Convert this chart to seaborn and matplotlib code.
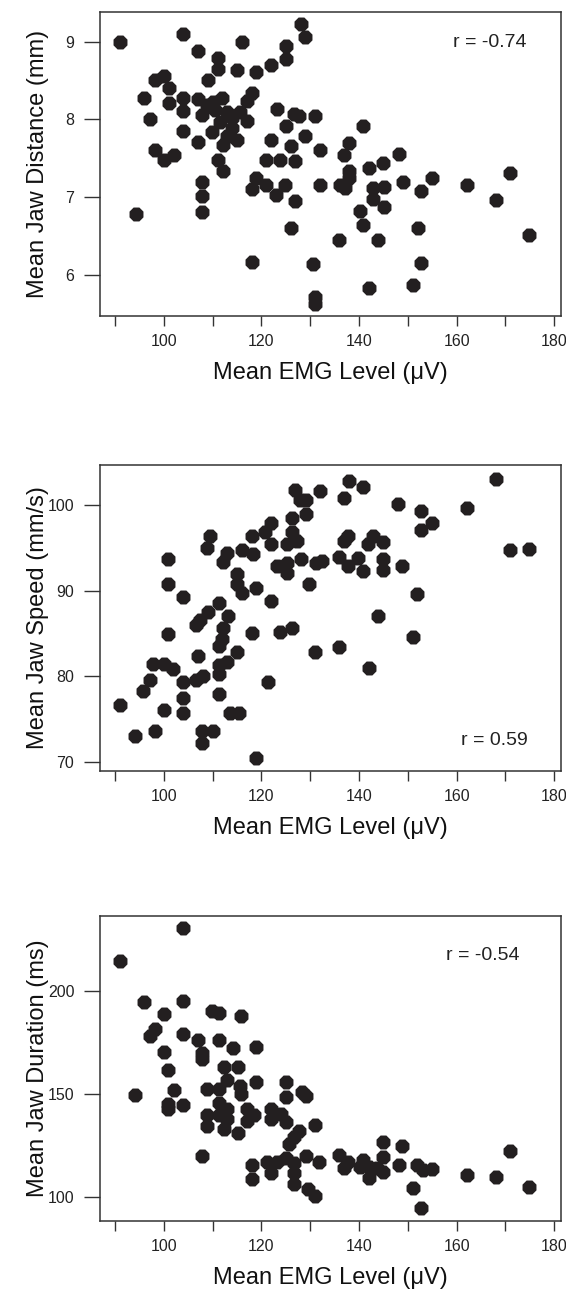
import matplotlib
matplotlib.use("Agg")
import matplotlib.pyplot as plt
from matplotlib.ticker import FixedLocator
import seaborn as sns
import pandas as pd

# ---- data -----------------------------------------------------------------
emg_distance = [90.9, 104.0, 106.9, 116.0, 128.1, 129.0, 125.0, 125.0, 121.9, 118.9,
                115.0, 111.1, 111.1, 109.0, 100.1, 98.1, 101.0, 95.9, 101.0, 104.0,
                104.0, 97.2, 106.9, 108.8, 111.9, 110.5, 107.8, 112.9, 118.0, 117.0,
                115.6, 117.0, 111.5, 113.9, 109.8, 112.9, 114.9, 112.2, 104.0, 106.9,
                98.1, 100.1, 102.0, 111.1, 112.1, 107.9, 107.9, 107.9, 94.2, 121.9,
                123.1, 126.7, 127.6, 131.0, 125.0, 129.0, 126.0, 131.9, 120.9, 123.8,
                126.9, 118.8, 118.0, 121.0, 123.0, 124.9, 126.9, 132.0, 126.0, 118.0,
                130.6, 131.0, 131.0, 140.9, 138.0, 137.0, 148.1, 145.0, 142.0, 138.0,
                138.0, 136.1, 137.1, 142.9, 145.1, 142.9, 145.1, 149.0, 152.8, 154.9,
                162.1, 170.9, 168.0, 174.8, 140.1, 140.9, 135.9, 143.8, 152.0, 152.8,
                142.0, 151.0, 110.0, 114.0]
jaw_distance = [8.99, 9.10, 8.88, 8.99, 9.23, 9.06, 8.94, 8.77, 8.70, 8.61,
                8.63, 8.79, 8.65, 8.50, 8.56, 8.50, 8.40, 8.28, 8.21, 8.28,
                8.11, 8.00, 8.26, 8.19, 8.27, 8.12, 8.06, 8.10, 8.34, 8.23,
                8.10, 7.98, 7.97, 7.89, 7.84, 7.78, 7.74, 7.67, 7.85, 7.71,
                7.60, 7.48, 7.54, 7.48, 7.33, 7.20, 7.01, 6.81, 6.78, 7.74,
                8.13, 8.07, 8.04, 8.04, 7.92, 7.78, 7.66, 7.61, 7.48, 7.48,
                7.47, 7.25, 7.11, 7.16, 7.03, 7.16, 6.95, 7.16, 6.60, 6.17,
                6.14, 5.72, 5.62, 7.91, 7.69, 7.54, 7.55, 7.44, 7.38, 7.33,
                7.24, 7.16, 7.12, 7.12, 7.13, 6.97, 6.87, 7.20, 7.08, 7.25,
                7.16, 7.31, 6.96, 6.51, 6.82, 6.64, 6.45, 6.45, 6.60, 6.15,
                5.83, 5.87, 8.22, 8.02]

emg_speed = [126.9, 131.9, 127.9, 129.1, 129.1, 126.2, 121.9, 120.7, 118.0, 121.9,
             126.2, 127.2, 125.2, 109.5, 108.8, 112.9, 112.2, 116.0, 118.3, 100.9,
             100.9, 104.0, 114.9, 114.9, 116.0, 118.9, 121.9, 123.1, 125.2, 125.2,
             128.1, 131.1, 132.4, 129.8, 111.2, 113.2, 107.4, 109.1, 112.2, 111.2,
             100.9, 118.0, 123.8, 126.2, 114.9, 112.9, 111.2, 111.2, 107.0, 97.8,
             100.1, 101.9, 97.2, 95.7, 104.0, 106.6, 108.1, 111.2, 121.3, 90.9,
             100.1, 104.0, 104.0, 113.6, 115.3, 94.1, 98.1, 107.8, 110.0, 107.8,
             118.9, 138.0, 140.9, 137.0, 147.9, 152.8, 154.9, 152.8, 162.1, 168.0,
             170.9, 174.8, 137.8, 137.0, 142.9, 141.9, 145.0, 135.8, 139.8, 137.8,
             140.9, 145.0, 145.0, 148.9, 151.8, 143.8, 151.0, 142.0, 135.8, 131.0,
             111.9, 106.6]
jaw_speed = [101.7, 101.6, 100.5, 100.5, 98.9, 98.4, 97.9, 96.8, 96.4, 95.4,
             96.8, 95.8, 95.4, 96.3, 94.9, 94.4, 93.3, 94.7, 94.2, 93.7,
             90.8, 89.3, 91.9, 90.8, 89.7, 90.3, 88.8, 92.8, 93.2, 92.0,
             93.7, 93.2, 93.4, 90.8, 88.5, 87.0, 86.6, 87.5, 85.6, 83.5,
             84.9, 85.0, 85.2, 85.6, 82.9, 81.7, 81.3, 80.3, 82.4, 81.4,
             81.5, 80.9, 79.6, 78.3, 79.3, 79.6, 80.1, 78.0, 79.3, 76.7,
             76.1, 77.5, 75.7, 75.7, 75.8, 73.1, 73.6, 73.6, 73.6, 72.2,
             70.5, 102.7, 102.1, 100.8, 100.1, 99.2, 97.9, 97.0, 99.6, 103.0,
             94.7, 94.8, 96.3, 95.8, 96.3, 95.4, 95.7, 93.9, 93.8, 92.8,
             92.3, 93.7, 92.4, 92.8, 89.6, 87.0, 84.6, 81.0, 83.4, 82.9,
             84.4, 86.0]

emg_duration = [104.0, 90.9, 95.9, 104.0, 100.1, 109.9, 111.2, 115.9, 98.1, 97.2,
                104.0, 107.0, 111.2, 114.1, 118.9, 100.1, 107.8, 107.8, 100.9, 112.3,
                115.2, 113.0, 94.1, 102.0, 100.9, 100.9, 104.0, 108.9, 111.2, 115.6,
                115.9, 118.9, 111.2, 108.9, 108.9, 111.2, 113.0, 113.0, 112.3, 115.2,
                117.1, 117.1, 118.5, 121.9, 121.9, 124.1, 125.1, 125.0, 125.0, 128.4,
                129.1, 131.0, 127.7, 126.7, 125.7, 107.9, 118.0, 118.0, 121.1, 121.9,
                123.1, 125.0, 126.7, 126.7, 129.1, 126.7, 129.6, 131.0, 131.8, 135.8,
                137.8, 137.0, 140.9, 142.1, 142.1, 143.6, 145.0, 145.0, 145.0, 140.2,
                148.1, 148.9, 151.8, 153.1, 154.9, 151.0, 152.8, 162.1, 168.0, 170.9,
                174.8]
jaw_duration = [230.6, 214.5, 194.5, 195.4, 188.9, 190.5, 189.4, 187.7, 181.6, 178.0,
                179.2, 176.4, 176.4, 172.1, 172.6, 170.2, 169.9, 167.0, 161.6, 162.9,
                162.9, 156.9, 149.4, 152.0, 145.1, 142.7, 144.6, 152.4, 152.4, 154.0,
                149.9, 155.6, 145.8, 139.7, 134.5, 139.5, 142.6, 137.8, 132.9, 131.2,
                142.6, 136.9, 139.5, 142.6, 137.8, 140.2, 136.1, 155.6, 148.3, 150.7,
                149.1, 134.8, 132.1, 128.8, 125.6, 119.9, 115.3, 108.5, 117.0, 111.7,
                117.0, 119.0, 116.6, 111.7, 119.9, 106.1, 103.7, 100.4, 117.0, 120.4,
                117.1, 113.9, 117.9, 114.6, 109.0, 113.8, 119.5, 126.8, 112.2, 114.6,
                115.5, 124.7, 115.5, 113.1, 113.3, 104.4, 94.4, 110.6, 109.8, 122.0,
                104.9]

r_labels = ["r = -0.74", "r = 0.59", "r = -0.54"]
y_titles = ["Mean Jaw Distance (mm)", "Mean Jaw Speed (mm/s)", "Mean Jaw Duration (ms)"]
x_title = "Mean EMG Level (\u03bcV)"

# ---- style ----------------------------------------------------------------
sns.set_style("white")
plt.rcParams["font.family"] = ["Liberation Sans", "DejaVu Sans"]

ink = "#231f20"
frame = "#333333"

fig = plt.figure(figsize=(5.66, 12.94), dpi=100)

panels = [
    dict(x=emg_distance, y=jaw_distance, ylim=(5.47, 9.38), yticks=[6, 7, 8, 9],
         rect=[0.1767, 0.7558, 0.8145, 0.2349], rpos=(0.926, 0.901)),
    dict(x=emg_speed, y=jaw_speed, ylim=(69.0, 104.6), yticks=[70, 80, 90, 100],
         rect=[0.1767, 0.4042, 0.8145, 0.2364], rpos=(0.928, 0.101)),
    dict(x=emg_duration, y=jaw_duration, ylim=(88.3, 236.5), yticks=[100, 150, 200],
         rect=[0.1767, 0.0566, 0.8145, 0.2355], rpos=(0.911, 0.870)),
]

for i, p in enumerate(panels):
    ax = fig.add_axes(p["rect"])
    df = pd.DataFrame({"emg": p["x"], "val": p["y"]})
    sns.scatterplot(data=df, x="emg", y="val", ax=ax, marker="8", s=118,
                    color=ink, linewidth=0, legend=False)
    ax.set_xlim(86.9, 181.4)
    ax.set_ylim(*p["ylim"])

    ax.xaxis.set_major_locator(FixedLocator([100, 120, 140, 160, 180]))
    ax.xaxis.set_minor_locator(FixedLocator([90, 110, 130, 150, 170]))
    ax.yaxis.set_major_locator(FixedLocator(p["yticks"]))

    ax.tick_params(axis="x", which="both", direction="out", length=7.2, width=1.0,
                   color=frame, bottom=True, labelsize=11.5, pad=6, labelcolor="#222222")
    ax.tick_params(axis="y", which="major", direction="out", length=11.5, width=1.0,
                   color=frame, left=True, labelsize=11.5, pad=7, labelcolor="#222222")

    for sp in ax.spines.values():
        sp.set_visible(True)
        sp.set_color(frame)
        sp.set_linewidth(1.1)

    ax.set_xlabel(x_title, fontsize=17, color="#111111")
    ax.xaxis.set_label_coords(0.5, -0.188)
    ax.xaxis.label.set_verticalalignment("center")

    ax.set_ylabel(y_titles[i], fontsize=17, color="#111111")
    ax.yaxis.set_label_coords(-0.135, 0.5)
    ax.yaxis.label.set_verticalalignment("center")

    ax.text(p["rpos"][0], p["rpos"][1], r_labels[i], transform=ax.transAxes,
            ha="right", va="center", fontsize=14, color="#222222")

fig.savefig("out.png", dpi=100)
